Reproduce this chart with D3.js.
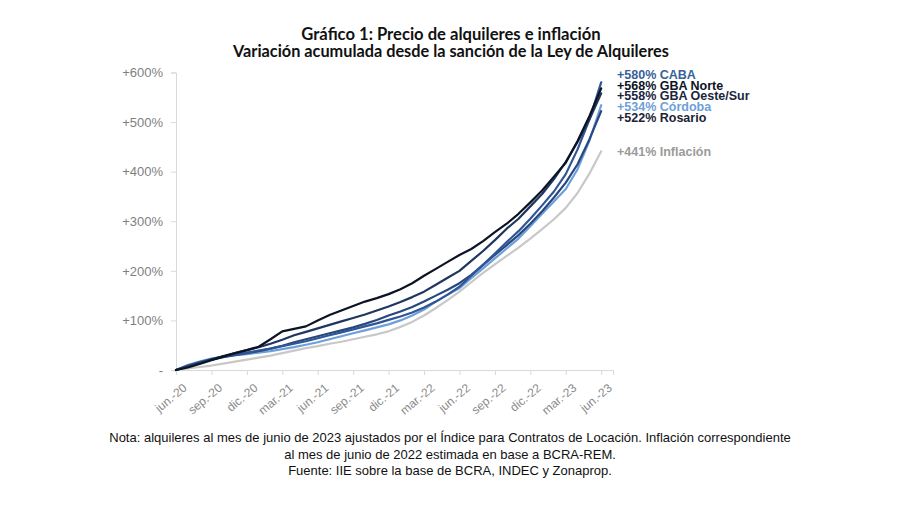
<!DOCTYPE html>
<html><head><meta charset="utf-8">
<script src="https://cdn.jsdelivr.net/npm/d3@7"></script>
<style>
body{margin:0;background:#fff;}
svg{display:block;}
</style></head>
<body><svg id="c" width="900" height="505"></svg>
<script>
const months = ["jun.-20","jul.-20","ago.-20","sep.-20","oct.-20","nov.-20","dic.-20","ene.-21","feb.-21","mar.-21","abr.-21","may.-21","jun.-21","jul.-21","ago.-21","sep.-21","oct.-21","nov.-21","dic.-21","ene.-22","feb.-22","mar.-22","abr.-22","may.-22","jun.-22","jul.-22","ago.-22","sep.-22","oct.-22","nov.-22","dic.-22","ene.-23","feb.-23","mar.-23","abr.-23","may.-23","jun.-23"];
const tickLabels = ["jun.-20","sep.-20","dic.-20","mar.-21","jun.-21","sep.-21","dic.-21","mar.-22","jun.-22","sep.-22","dic.-22","mar.-23","jun.-23"];
const yTicks = [0,100,200,300,400,500,600];

const inflacion = [0,3,6,9,13,17,21,25,29,34,39,44,48,53,57,62,67,72,78,87,97,110,125,141,158,177,196,213,230,247,265,284,304,327,357,396,441];
const cordoba   = [0,10,17,23,27,30,32,35,38,42,46,51,56,62,68,74,80,86,92,100,110,122,138,152,165,185,205,225,245,265,290,315,340,365,405,462,534];
const rosario   = [0,8,15,21,26,30,34,38,43,49,56,62,68,74,80,86,93,101,110,118,127,138,150,162,175,192,212,232,252,272,295,320,348,378,415,465,522];
const caba      = [0,9,16,22,27,31,35,39,43,48,53,58,64,70,76,82,88,94,101,108,116,126,138,152,168,190,212,235,258,280,305,332,360,395,445,505,580];
const gbaOeste  = [0,7,14,21,28,34,40,46,53,61,70,77,84,91,98,105,112,120,128,137,147,158,172,186,200,220,240,262,285,305,330,355,385,420,460,505,558];
const gbaNorte  = [0,5,12,20,27,34,40,47,62,78,83,88,100,111,120,129,138,145,153,163,175,190,204,218,232,244,260,278,295,315,338,362,390,418,462,512,568];

const seriesNames  = ["Inflación","Córdoba","Rosario","CABA","GBA Oeste/Sur","GBA Norte"];
const seriesValues = [inflacion, cordoba, rosario, caba, gbaOeste, gbaNorte];
const lineColors   = ["#c8c8c8","#6d9fd8","#26487f","#2f5597","#1f3760","#0c1424"];
const labelColors  = ["#9a9a9a","#6d9fd8","#1b2435","#3a5f9a","#1a2640","#0c1424"];
const labelY       = [152,107,118,75,96,86];

const svg = d3.select("#c");
const titleFont = "Lato, 'Liberation Sans', sans-serif";
const font = "'Liberation Sans', Arial, sans-serif";

const x = d3.scaleLinear().domain([0, 37]).range([176, 613]);
const y = d3.scaleLinear().domain([0, 600]).range([370, 72.5]);

// titles
svg.append("text").attr("x",451).attr("y",40).attr("text-anchor","middle")
  .attr("font-family",titleFont).attr("font-weight","bold").attr("font-size",16.6)
  .attr("fill","#111").text("Gráfico 1: Precio de alquileres e inflación");
svg.append("text").attr("x",451).attr("y",57).attr("text-anchor","middle")
  .attr("font-family",titleFont).attr("font-weight","bold").attr("font-size",16.3)
  .attr("fill","#111").text("Variación acumulada desde la sanción de la Ley de Alquileres");

// y axis
const yAxis = d3.axisLeft(y).tickValues(yTicks).tickSize(5).tickPadding(8)
  .tickFormat(d => d === 0 ? "-" : "+" + d + "%");
const gy = svg.append("g").attr("transform","translate(176,0)").call(yAxis);
gy.select(".domain").attr("stroke","#d9d9d9");
gy.selectAll(".tick line").attr("stroke","#d9d9d9");
gy.selectAll(".tick text").attr("fill","#7f7f7f").attr("font-family",font).attr("font-size",13);

// x axis
const tickIdx = tickLabels.map(t => months.indexOf(t));
const xAxis = d3.axisBottom(x).tickValues(tickIdx).tickSize(5).tickFormat(i => months[i]);
const gx = svg.append("g").attr("transform","translate(0,370)").call(xAxis);
gx.select(".domain").attr("stroke","#d9d9d9");
gx.selectAll(".tick line").attr("stroke","#d9d9d9");
gx.selectAll(".tick text").attr("fill","#8a8a8a").attr("font-family",font).attr("font-size",12)
  .attr("text-anchor","end").attr("dy",0).attr("dx",0)
  .attr("transform","translate(6,13) rotate(-40)");

// lines
const line = d3.line().x((d,i) => x(i)).y(d => y(d)).curve(d3.curveLinear);
seriesValues.forEach((vals, k) => {
  svg.append("path").datum(vals).attr("d", line)
    .attr("fill","none").attr("stroke", lineColors[k])
    .attr("stroke-width", 2.2).attr("stroke-linejoin","round").attr("stroke-linecap","round");
});

// end labels
seriesValues.forEach((vals, k) => {
  svg.append("text").attr("x",617).attr("y",labelY[k]).attr("dy","0.35em")
    .attr("font-family",font).attr("font-weight","bold").attr("font-size",12.5)
    .attr("fill",labelColors[k])
    .text("+" + vals[vals.length-1] + "% " + seriesNames[k]);
});

// notes
const notes = ["Nota: alquileres al mes de junio de 2023 ajustados por el Índice para Contratos de Locación. Inflación correspondiente",
  "al mes de junio de 2022 estimada en base a BCRA-REM.",
  "Fuente: IIE sobre la base de BCRA, INDEC y Zonaprop."];
notes.forEach((t,i) => {
  svg.append("text").attr("x",450).attr("y",442 + i*16.5).attr("text-anchor","middle")
    .attr("font-family",font).attr("font-size",13).attr("fill","#111").text(t);
});
</script></body></html>
